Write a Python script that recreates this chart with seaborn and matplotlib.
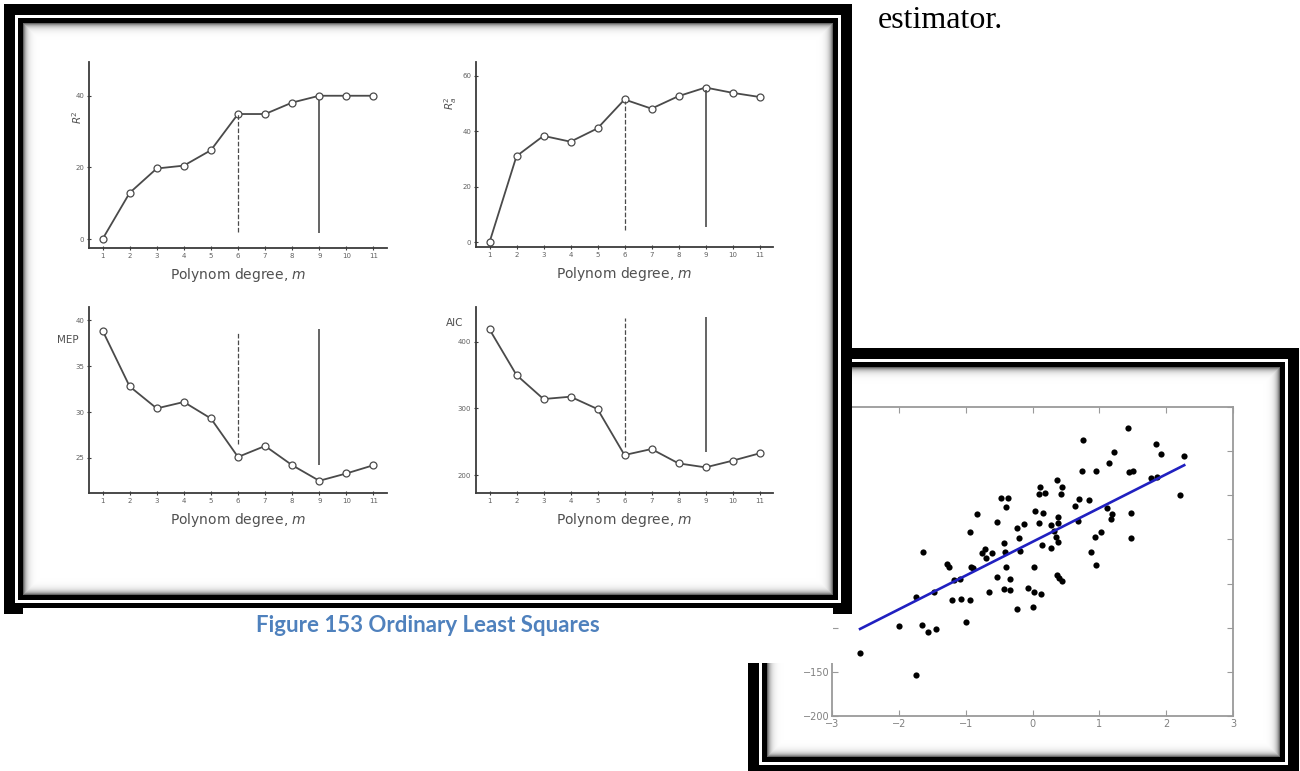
import numpy as np
import matplotlib
matplotlib.use("Agg")
import matplotlib.pyplot as plt
from matplotlib.patches import Rectangle
import seaborn as sns

# ---------------- model-selection criteria vs. polynomial degree ----------------
degree = list(range(1, 12))
r2 = [0, 12.9, 19.7, 20.5, 24.8, 34.9, 34.9, 38.1, 40, 40, 40]
r2_adj = [0, 31.0, 38.3, 36.2, 41.0, 51.4, 48.1, 52.6, 55.7, 53.8, 52.3]
mep = [38.9, 32.8, 30.4, 31.1, 29.3, 25.1, 26.3, 24.2, 22.5, 23.3, 24.2]
aic = [418.5, 350, 314, 317.5, 299, 230, 239, 217.5, 211.5, 221.5, 232.5]

# (degree, y_from, y_to) for the dashed and solid markers of each panel
r2_marks = [(6, 2.0, 34.9), (9, 1.6, 38.8)]
r2_adj_marks = [(6, 4.4, 51.0), (9, 5.6, 54.7)]
mep_marks = [(6, 26.5, 38.7), (9, 24.2, 39.1)]
aic_marks = [(6, 242, 435), (9, 235, 437.5)]

r2_ticks = [0, 20, 40]
r2_adj_ticks = [0, 20, 40, 60]
mep_ticks = [25, 30, 35, 40]
aic_ticks = [200, 300, 400]

# ---------------- OLS example: noisy samples and fitted line ----------------
sample_x = [1.43, 0.76, 1.85, 1.22, 1.93, 2.26, 1.15, 0.74, 0.95, 1.45,
            1.50, 1.77, 1.87, 0.36, 0.44, 0.11, 0.18, 0.10, 0.42, -0.47,
            -0.37, 2.21, 0.70, 0.84, -0.39, 0.63, 0.03, 0.16, -0.83, 1.11,
            1.19, 1.17, 1.47, 0.38, -0.53, -0.13, 0.10, 0.28, 0.38, 0.68,
            -0.23, -0.94, 0.32, 1.03, 0.93, -0.20, 0.35, 1.47, 0.38, 0.14,
            -0.43, -0.71, 0.28, -1.64, -0.76, -0.61, -0.41, -0.18, -0.70, 0.87,
            -1.28, -1.25, -0.92, -0.89, -0.39, 0.02, 0.95, -1.18, -1.08, -0.53,
            -0.34, 0.37, 0.40, 0.44, -0.65, -0.42, -0.33, -0.06, 0.02, 0.13,
            -1.20, -1.07, -0.93, -1.74, -1.48, -0.23, 0.00, -1.00, -2.00, -1.66,
            -1.56, -1.44, -2.58, -1.74]
sample_y = [126.7, 113.1, 108.6, 99.2, 97.3, 94.3, 86.8, 77.7, 77.7, 76.6,
            77.4, 69.1, 70.2, 67.2, 58.9, 59.7, 52.9, 51.4, 51.0, 47.3,
            46.5, 50.3, 45.7, 44.2, 37.1, 38.2, 32.2, 30.3, 28.8, 35.2,
            28.8, 22.8, 29.6, 25.8, 20.2, 17.1, 19.0, 16.4, 18.3, 21.3,
            12.6, 8.9, 9.6, 8.9, 2.5, 1.3, 3.2, 1.3, -3.2, -6.2,
            -3.6, -10.7, -9.2, -13.7, -15.6, -15.6, -13.7, -13.0, -21.2, -13.7,
            -28.0, -30.7, -30.7, -32.5, -31.4, -30.7, -28.8, -45.7, -45.0, -42.0,
            -45.0, -40.1, -43.8, -46.8, -59.6, -56.2, -57.7, -55.1, -59.6, -61.5,
            -69.0, -67.5, -68.3, -65.3, -60.0, -78.5, -77.0, -93.9, -98.4, -96.5,
            -105.2, -101.4, -128.5, -153.7]
fit_x = [-2.58, 2.27]
fit_y = [-101.4, 84.1]

W, H = 1300, 771
fig = plt.figure(figsize=(W / 100, H / 100), dpi=100, facecolor="white")


def page_axes(z):
    ax = fig.add_axes([0, 0, 1, 1], zorder=z)
    ax.set_xlim(0, W)
    ax.set_ylim(H, 0)
    ax.set_axis_off()
    ax.patch.set_alpha(0)
    return ax


def glow_panel(ax, x0, y0, x1, y1, strength=0.7, depth=3.2):
    w, h = int(round(x1 - x0)), int(round(y1 - y0))
    xs = np.arange(w) + 0.5
    ys = np.arange(h) + 0.5
    d = np.minimum(np.minimum(xs, w - xs)[None, :], np.minimum(ys, h - ys)[:, None])
    v = 1 - strength * np.exp(-d / depth)
    ax.imshow(v, cmap="gray", vmin=0, vmax=1, extent=(x0, x1, y1, y0),
              interpolation="bilinear", aspect="auto", zorder=2)


def framed_box(ax, x0, y0, x1, y1, outer=11, gap=3, inner=5):
    ax.add_patch(Rectangle((x0, y0), x1 - x0, y1 - y0, fc="black", ec="none", zorder=1))
    a = outer
    ax.add_patch(Rectangle((x0 + a, y0 + a), x1 - x0 - 2 * a, y1 - y0 - 2 * a,
                           fc="white", ec="none", zorder=1))
    b = outer + gap
    ax.add_patch(Rectangle((x0 + b, y0 + b), x1 - x0 - 2 * b, y1 - y0 - 2 * b,
                           fc="black", ec="none", zorder=1))
    c = outer + gap + inner
    glow_panel(ax, x0 + c, y0 + c, x1 - c, y1 - c)
    ax.set_xlim(0, W)
    ax.set_ylim(H, 0)


# ---------------- back frame with the regression scatter ----------------
back = page_axes(0)
framed_box(back, 748, 348, 1299, 776)

sc = fig.add_axes([832 / W, 1 - 716 / H, 401 / W, 309 / H], zorder=1)
sc.set_facecolor("white")
sns.scatterplot(x=sample_x, y=sample_y, ax=sc, color="black", s=20,
                edgecolor="black", linewidth=0)
sns.lineplot(x=fit_x, y=fit_y, ax=sc, color="#2020c0", linewidth=1.9)
sc.set_xlim(-3, 3)
sc.set_ylim(-200, 150)
sc.set_xticks(range(-3, 4))
sc.set_yticks(range(-200, 151, 50))
for s in sc.spines.values():
    s.set_color("#9a9a9a")
    s.set_linewidth(1.3)
sc.tick_params(direction="in", top=True, right=True, length=4, width=0.8,
               color="#9a9a9a", labelsize=7, labelcolor="#808080", pad=2)

# ---------------- front frame, caption and body text ----------------
front = page_axes(2)
framed_box(front, 4, 4, 852, 614)
front.add_patch(Rectangle((23, 608), 810, 55, fc="white", ec="none", zorder=3))
front.text(428, 626, "Figure 153 Ordinary Least Squares", ha="center", va="center",
           color="#4f81bd", fontsize=16, fontweight="bold", family="Lato", zorder=4)
front.text(878, 20, "estimator.", ha="left", va="center", color="black",
           fontsize=23, family="Liberation Serif", zorder=4)

# ---------------- four criterion panels ----------------
line_col = "#4a4a4a"
panels = [
    ([89, 247.7, 298, 186], r2, r2_marks, (-2.4, 49.5), r2_ticks, "$R^2$", (-0.04, 0.70), 90),
    ([476, 246.7, 297, 185], r2_adj, r2_adj_marks, (-1.6, 65), r2_adj_ticks, "$R^2_a$", (-0.085, 0.775), 90),
    ([89, 492.7, 298, 186], mep, mep_marks, (21.2, 41.5), mep_ticks, "MEP", (-0.07, 0.82), 0),
    ([476, 492.7, 297, 186], aic, aic_marks, (173.5, 452.5), aic_ticks, "AIC", (-0.071, 0.914), 0),
]

for (x, yb, w, h), vals, marks, ylim, yticks, lab, lab_pos, rot in panels:
    ax = fig.add_axes([x / W, 1 - yb / H, w / W, h / H], zorder=3)
    ax.patch.set_alpha(0)
    sns.lineplot(x=degree, y=vals, ax=ax, color=line_col, linewidth=1.3,
                 marker="o", markersize=5, markerfacecolor="white",
                 markeredgecolor=line_col, markeredgewidth=0.9)
    for (mx, y0, y1), ls in zip(marks, ["--", "-"]):
        ax.vlines(mx, y0, y1, colors=line_col, linestyles=ls,
                  linewidth=1.2 if ls == "-" else 0.9)
    ax.set_xlim(0.5, 11.5)
    ax.set_ylim(*ylim)
    ax.set_xticks(degree)
    ax.set_yticks(yticks)
    for side in ("top", "right"):
        ax.spines[side].set_visible(False)
    for side in ("left", "bottom"):
        ax.spines[side].set_color("#3c3c3c")
        ax.spines[side].set_linewidth(1.3)
    ax.tick_params(direction="inout", length=3, width=0.8, color="#3c3c3c",
                   labelsize=5, labelcolor="#606060", pad=2)
    ax.set_xlabel("Polynom degree, $m$", fontsize=10, color="#505050", labelpad=5)
    ax.set_ylabel("")
    ax.text(lab_pos[0], lab_pos[1], lab, transform=ax.transAxes, rotation=rot,
            ha="center", va="center", fontsize=7.5, color="#505050")

fig.savefig("out.png", dpi=100, facecolor="white")
